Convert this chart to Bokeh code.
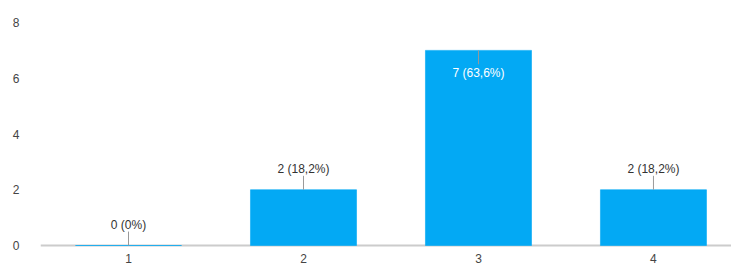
from bokeh.plotting import figure
from bokeh.models import Range1d, FixedTicker, Span, ColumnDataSource
from bokeh.core.properties import value
from bokeh.embed import file_html
from bokeh.resources import INLINE

categories = [1, 2, 3, 4]
counts = [0, 2, 7, 2]
labels = ["0 (0%)", "2 (18,2%)", "7 (63,6%)", "2 (18,2%)"]
y_ticks = [0, 2, 4, 6, 8]

BAR = "#03A9F4"
FONT = value("Liberation Sans")

p = figure(width=731, height=267, output_backend="svg", toolbar_location=None,
           x_range=Range1d(0.497, 4.446), y_range=Range1d(-0.789, 8),
           min_border_left=40, min_border_right=0, min_border_top=22, min_border_bottom=0)
p.outline_line_color = None
p.xgrid.visible = False
p.ygrid.visible = False
p.background_fill_color = "white"
p.border_fill_color = "white"

# axes
p.xaxis.fixed_location = 0
p.xaxis.ticker = FixedTicker(ticks=categories)
p.xaxis.axis_line_color = None
p.xaxis.major_tick_line_color = None
p.xaxis.minor_tick_line_color = None
p.xaxis.major_label_standoff = 2
p.xaxis.major_label_text_font = "Liberation Sans"
p.xaxis.major_label_text_font_size = "12px"
p.xaxis.major_label_text_color = "#444444"

p.yaxis.ticker = FixedTicker(ticks=y_ticks)
p.yaxis.axis_line_color = None
p.yaxis.major_tick_line_color = None
p.yaxis.minor_tick_line_color = None
p.yaxis.major_label_standoff = 15
p.yaxis.major_label_text_font = "Liberation Sans"
p.yaxis.major_label_text_font_size = "12px"
p.yaxis.major_label_text_color = "#444444"

# baseline
p.add_layout(Span(location=0, dimension="width", line_color="#cccccc", line_width=2, level="underlay"))

# bars
inside = [c >= 7 for c in counts]
lead = 0.5
src = ColumnDataSource(dict(
    x=categories, top=counts,
    y1=[c - lead if ins else c + lead for c, ins in zip(counts, inside)],
))
p.vbar(x="x", top="top", bottom=0, width=0.606, source=src,
       fill_color=BAR, line_color=BAR, line_alpha=0.6, line_width=1)

# leader lines
p.segment(x0="x", y0="top", x1="x", y1="y1", source=src, line_color="#999999", line_width=1)

# labels
out_src = ColumnDataSource(dict(
    x=[x for x, ins in zip(categories, inside) if not ins],
    y=[c for c, ins in zip(counts, inside) if not ins],
    t=[l for l, ins in zip(labels, inside) if not ins],
))
in_src = ColumnDataSource(dict(
    x=[x for x, ins in zip(categories, inside) if ins],
    y=[c for c, ins in zip(counts, inside) if ins],
    t=[l for l, ins in zip(labels, inside) if ins],
))
p.text(x="x", y="y", text="t", source=out_src, text_align="center", text_baseline="bottom",
       y_offset=-14, text_font=FONT, text_font_size="12px", text_color="#333333")
p.text(x="x", y="y", text="t", source=in_src, text_align="center", text_baseline="top",
       y_offset=16, text_font=FONT, text_font_size="12px", text_color="#ffffff")

open("out.html", "w").write(file_html(p, INLINE))
